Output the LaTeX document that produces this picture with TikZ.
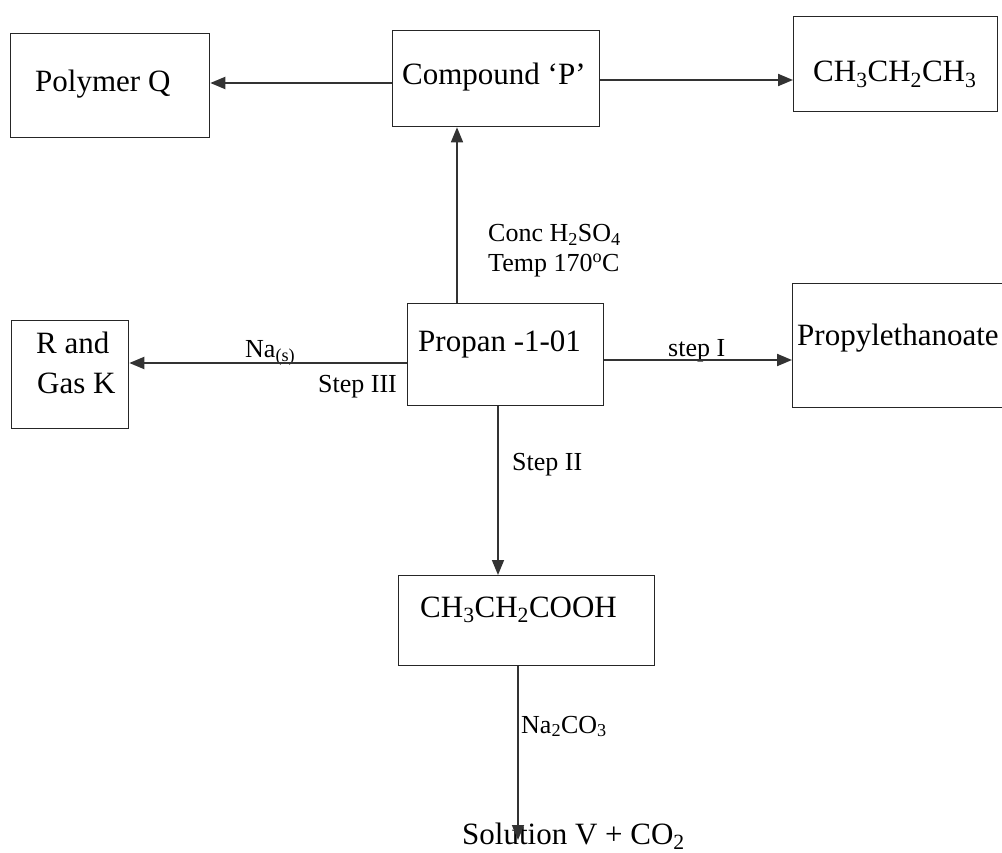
\documentclass[tikz,border=0pt]{standalone}
\usepackage{fontspec}
\setmainfont{Liberation Serif}
\usetikzlibrary{arrows.meta}
\begin{document}
\begin{tikzpicture}[x=1pt,y=-1pt,
  box/.style={draw=black!85, line width=1.3pt, inner sep=0pt, anchor=north west},
  main/.style={anchor=base west, inner sep=0pt, font=\fontsize{31}{36}\selectfont},
  lab/.style={anchor=base west, inner sep=0pt, font=\fontsize{26}{30}\selectfont},
  arr/.style={draw=black!80, line width=2pt, -{Triangle[length=15pt,width=12pt]}}]
\useasboundingbox[fill=white] (0,0) rectangle (1002,853);
% boxes
\node[box, minimum width=199pt, minimum height=104pt] (pq) at (10,33) {};
\node[box, minimum width=207pt, minimum height=96pt] (cp) at (392,30) {};
\node[box, minimum width=204pt, minimum height=95pt] (ch) at (793,16) {};
\node[box, minimum width=117pt, minimum height=108pt] (rk) at (11,320) {};
\node[box, minimum width=196pt, minimum height=102pt] (pr) at (407,303) {};
\node[box, minimum width=220pt, minimum height=124pt] (pe) at (792,283) {};
\node[box, minimum width=256pt, minimum height=90pt] (ac) at (398,575) {};
% box texts
\node[main] (tpq) at (35,92) {Polymer Q};
\node[main] (tcp) at (402,85) {Compound ‘P’};
\node[main] (tch) at (813,82) {CH\textsubscript{3}CH\textsubscript{2}CH\textsubscript{3}};
\node[main] (trk1) at (36,353) {R and};
\node[main] (trk2) at (37,393) {Gas K};
\node[main] (tpr) at (418,351) {Propan -1-01};
\node[main] (tpe) at (797,345) {Propylethanoate};
\node[main] (tac) at (420,617) {CH\textsubscript{3}CH\textsubscript{2}COOH};
\node[main] (sol) at (462,844) {Solution V + CO\textsubscript{2}};
\coordinate (solin) at (518,840);
% labels
\node[lab] (l1) at (488,242) {Conc H\textsubscript{2}SO\textsubscript{4}};
\node[lab] (l2) at (488,272) {Temp 170\textsuperscript{o}C};
\node[lab] (l3) at (245,357) {Na\textsubscript{(s)}};
\node[lab] (l4) at (318,392) {Step III};
\node[lab] (l5) at (668,356) {step I};
\node[lab] (l6) at (512,470) {Step II};
\node[lab] (l7) at (521,733) {Na\textsubscript{2}CO\textsubscript{3}};
% connectors
\draw[arr] (cp.west |- 0,83) -- (pq.east |- 0,83);
\draw[arr] (cp.east |- 0,80) -- (ch.west |- 0,80);
\draw[arr, line width=1.6pt] (pr.north -| 457,0) -- (cp.south -| 457,0);
\draw[arr] (pr.west |- 0,363) -- (rk.east |- 0,363);
\draw[arr] (pr.east |- 0,360) -- (pe.west |- 0,360);
\draw[arr, line width=1.6pt] (pr.south -| 498,0) -- (ac.north -| 498,0);
\draw[arr, line width=1.6pt] (ac.south -| 518,0) -- (solin);
\end{tikzpicture}
\end{document}
